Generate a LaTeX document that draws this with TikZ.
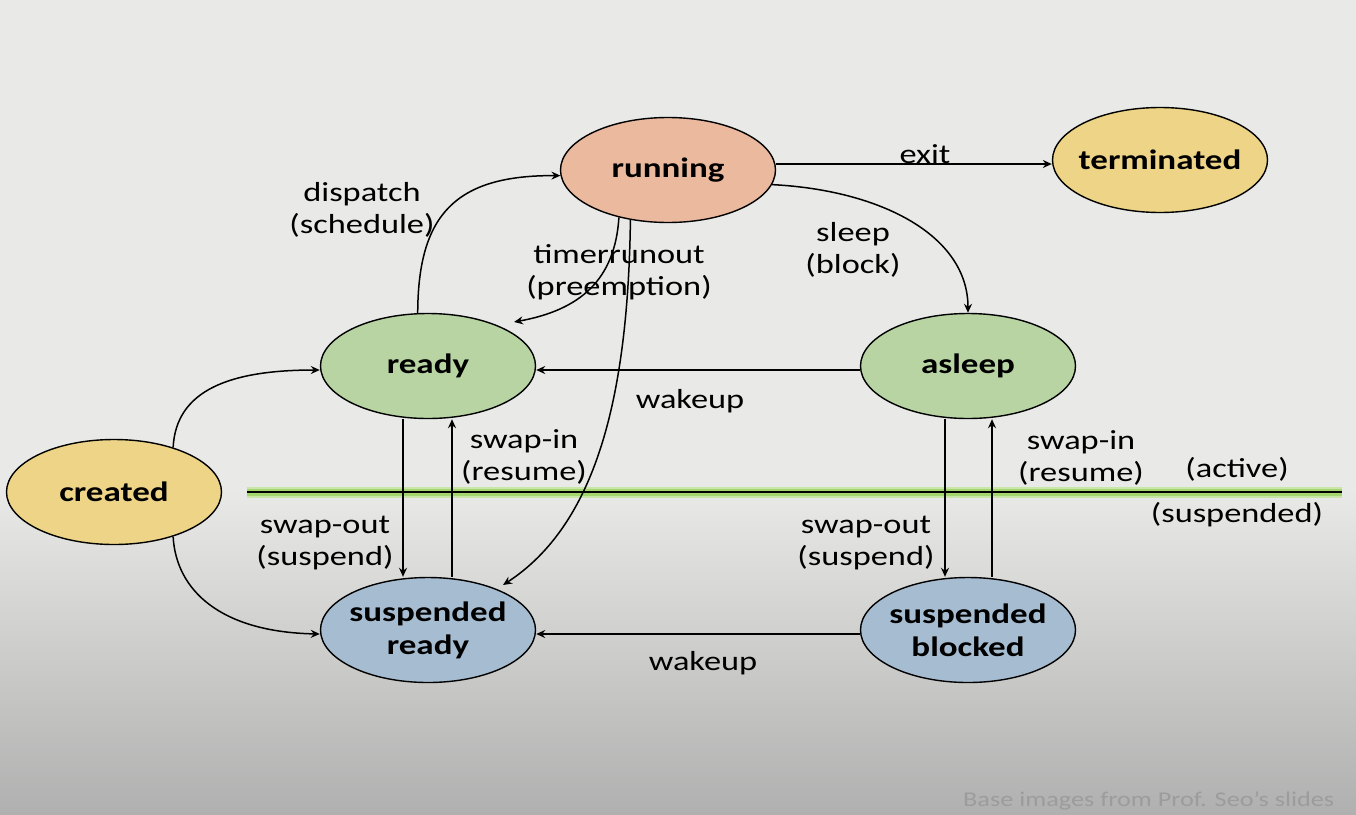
\documentclass[tikz,border=0pt]{standalone}
\usepackage{fontspec}
\setmainfont{Carlito}[FakeStretch=1.25]
\usetikzlibrary{arrows.meta,shapes.geometric}

\definecolor{bgtop}{HTML}{E9E9E7}
\definecolor{bgbot}{HTML}{B0B0B0}
\definecolor{runfill}{HTML}{EBB99D}
\definecolor{endfill}{HTML}{EDD487}
\definecolor{actfill}{HTML}{B7D4A2}
\definecolor{susfill}{HTML}{A6BCD0}
\definecolor{glow}{HTML}{A5D56E}
\definecolor{footgray}{HTML}{9C9C9C}

\begin{document}
\begin{tikzpicture}[x=1pt,y=-1pt,
  state/.style={ellipse, draw=black, line width=1.4pt,
    minimum width=215pt, minimum height=105pt, inner ysep=0pt, inner xsep=-9pt,
    align=center, font=\fontsize{28}{33}\selectfont\bfseries},
  lbl/.style={align=center, inner sep=0pt,
    font=\fontsize{27.5}{31.5}\selectfont},
  arr/.style={line width=1.5pt,
    -{Stealth[length=9pt,width=8pt,inset=3pt]}},
]
\useasboundingbox (0,0) rectangle (1356,814);
\clip (0,0) rectangle (1356,814);

% slide background
\fill[bgtop] (0,0) rectangle (1356,490);
\shade[top color=bgtop, bottom color=bgbot] (0,490) rectangle (1356,814);

% active / suspended divider
\draw[glow!60, line width=11pt] (247,492) -- (1342,492);
\draw[glow, line width=7pt] (247,492) -- (1342,492);
\draw[black, line width=2.5pt] (247,492) -- (1342,492);

% states
\node[state, fill=runfill] (running) at (668,170) {running};
\node[state, fill=endfill] (terminated) at (1160,160) {terminated};
\node[state, fill=actfill] (ready) at (428,366) {ready};
\node[state, fill=actfill] (asleep) at (968,366) {asleep};
\node[state, fill=endfill] (created) at (114,492) {created};
\node[state, fill=susfill] (sready) at (428,630) {suspended\\ready};
\node[state, fill=susfill] (sblocked) at (968,630) {suspended\\blocked};

% transitions
\draw[arr] ([yshift=6pt]running.east) -- ([yshift=-4pt]terminated.west);
\draw[arr] (ready.101) .. controls (418,215) and (455,175) .. (running.183);
\draw[arr] (running.224) .. controls (615,280) and (580,310) .. ([shift={(86,-44)}]ready.center);
\draw[arr] (running.233) .. controls (628,400) and (595,525) .. ([shift={(75,-45)}]sready.center);
\draw[arr] (running.352) .. controls (880,190) and (968,235) .. (asleep.north);
\draw[arr] ([yshift=-4pt]asleep.west) -- ([yshift=-4pt]ready.east);
\draw[arr] (created.37) .. controls (176,390) and (230,370) .. ([yshift=-4pt]ready.west);
\draw[arr] (created.-37) .. controls (176,590) and (220,632) .. ([yshift=-4pt]sready.west);
\draw[arr] ([xshift=-25pt]ready.south) -- ([xshift=-25pt]sready.north);
\draw[arr] ([xshift=24pt]sready.north) -- ([xshift=24pt]ready.south);
\draw[arr] ([xshift=-23pt]asleep.south) -- ([xshift=-23pt]sblocked.north);
\draw[arr] ([xshift=24pt]sblocked.north) -- ([xshift=24pt]asleep.south);
\draw[arr] ([yshift=-4pt]sblocked.west) -- ([yshift=-4pt]sready.east);

% transition labels
\node[lbl] (lexit) at (925,154) {exit};
\node[lbl] (ldispatch) at (362,210) {dispatch\\(schedule)};
\node[lbl] (ltimer) at (619,272) {timerrunout\\(preemption)};
\node[lbl] (lsleep) at (853,250) {sleep\\(block)};
\node[lbl] (lwake) at (690,401) {wakeup};
\node[lbl] (lwakes) at (703,663) {wakeup};
\node[lbl] (lswapin) at (524,457) {swap-in\\(resume)};
\node[lbl] (lswapout) at (325,543) {swap-out\\(suspend)};
\node[lbl] (lswapoutb) at (866,543) {swap-out\\(suspend)};
\node[lbl] (lswapinb) at (1081,458) {swap-in\\(resume)};
\node[lbl] (lactive) at (1237,469) {(active)};
\node[lbl] (lsusp) at (1237,515) {(suspended)};

% credit line along the lower edge
\node[anchor=north west, inner sep=0pt, text=footgray,
  font=\fontsize{21}{25}\selectfont] (credit) at (963,791)
  {Base images from Prof. Seo’s slides};
\end{tikzpicture}
\end{document}
